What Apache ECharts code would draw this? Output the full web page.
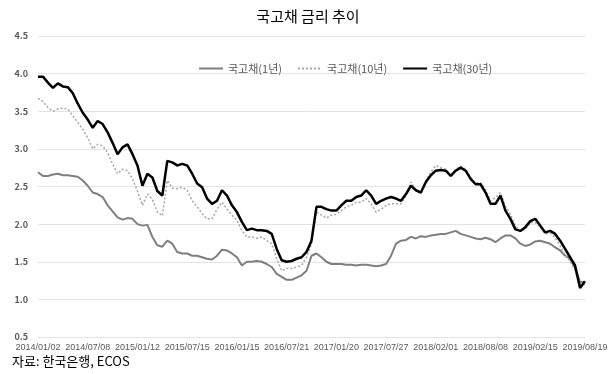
<!DOCTYPE html>
<html><head><meta charset="utf-8">
<script src="https://cdn.jsdelivr.net/npm/echarts@6/dist/echarts.min.js"></script>
<style>html,body{margin:0;padding:0;background:#fff}#c{width:616px;height:374px}</style>
</head><body><div id="c"></div>
<script>
const tickLabels = ['2014/01/02','2014/07/08','2015/01/12','2015/07/15','2016/01/15','2016/07/21','2017/01/20','2017/07/27','2018/02/01','2018/08/08','2019/02/15','2019/08/19'];
const seriesNames = ['국고채(1년)','국고채(10년)','국고채(30년)'];
const y1 = [2.69,2.64,2.64,2.66,2.67,2.65,2.65,2.64,2.63,2.58,2.51,2.42,2.40,2.36,2.25,2.17,2.09,2.06,2.08,2.07,2.00,1.98,1.99,1.83,1.72,1.70,1.78,1.74,1.63,1.61,1.61,1.58,1.58,1.56,1.54,1.53,1.58,1.66,1.65,1.61,1.56,1.45,1.50,1.50,1.51,1.50,1.47,1.43,1.34,1.30,1.26,1.26,1.29,1.32,1.38,1.58,1.61,1.56,1.50,1.47,1.47,1.47,1.46,1.46,1.45,1.46,1.46,1.45,1.44,1.45,1.47,1.58,1.74,1.78,1.79,1.83,1.81,1.84,1.83,1.85,1.86,1.87,1.87,1.89,1.91,1.87,1.85,1.83,1.81,1.80,1.82,1.80,1.76,1.81,1.85,1.85,1.81,1.74,1.71,1.73,1.77,1.78,1.76,1.74,1.69,1.65,1.58,1.54,1.42,1.23,1.23];
const y10 = [3.67,3.63,3.55,3.50,3.53,3.54,3.53,3.44,3.35,3.26,3.15,3.00,3.06,3.04,2.95,2.80,2.67,2.73,2.71,2.60,2.44,2.25,2.40,2.33,2.16,2.11,2.58,2.48,2.47,2.49,2.45,2.31,2.23,2.14,2.07,2.07,2.20,2.29,2.20,2.12,2.05,1.92,1.83,1.83,1.81,1.83,1.78,1.74,1.54,1.38,1.41,1.41,1.43,1.45,1.56,1.74,2.16,2.12,2.08,2.12,2.13,2.18,2.23,2.25,2.29,2.29,2.34,2.27,2.16,2.20,2.25,2.27,2.27,2.27,2.38,2.56,2.45,2.42,2.58,2.69,2.78,2.75,2.73,2.64,2.73,2.77,2.73,2.62,2.55,2.55,2.46,2.31,2.35,2.42,2.24,2.13,1.98,1.91,1.93,2.02,2.02,1.96,1.87,1.88,1.82,1.71,1.58,1.51,1.38,1.20,1.20];
const y30 = [3.96,3.96,3.88,3.81,3.87,3.83,3.82,3.74,3.60,3.48,3.39,3.28,3.37,3.33,3.22,3.08,2.93,3.02,3.06,2.93,2.78,2.51,2.67,2.62,2.44,2.38,2.84,2.82,2.78,2.80,2.78,2.67,2.54,2.49,2.34,2.27,2.31,2.45,2.38,2.25,2.16,2.03,1.92,1.94,1.92,1.92,1.91,1.87,1.67,1.52,1.50,1.51,1.54,1.56,1.63,1.78,2.23,2.23,2.20,2.18,2.18,2.25,2.31,2.31,2.36,2.38,2.45,2.38,2.27,2.31,2.34,2.36,2.34,2.31,2.40,2.51,2.45,2.42,2.56,2.65,2.71,2.72,2.71,2.64,2.71,2.75,2.71,2.60,2.53,2.53,2.42,2.27,2.27,2.38,2.18,2.07,1.93,1.91,1.96,2.04,2.07,1.98,1.89,1.91,1.87,1.78,1.67,1.56,1.45,1.15,1.24];
const pointsPerTick = (y30.length - 1) / (tickLabels.length - 1);
const cats = y30.map((v, i) => String(i));
const FONT = '"Noto Sans CJK KR", "Noto Sans", sans-serif';

const chart = echarts.init(document.getElementById('c'), null, {renderer: 'canvas'});
chart.setOption({
  animation: false,
  backgroundColor: '#fff',
  title: {
    text: '국고채 금리 추이', left: 'center', top: 4,
    textStyle: {fontFamily: FONT, fontSize: 15, fontWeight: 'normal', color: '#000'}
  },
  legend: {
    left: 193, top: 58, itemWidth: 24, itemHeight: 10, itemGap: 15,
    itemStyle: {color: 'transparent', borderWidth: 0, opacity: 0},
    textStyle: {fontFamily: FONT, fontSize: 11, color: '#595959'},
    data: seriesNames
  },
  grid: {left: 38, right: 31, top: 36, bottom: 37},
  xAxis: {
    type: 'category', data: cats, boundaryGap: false,
    axisLine: {show: false}, axisTick: {show: false},
    axisLabel: {
      interval: (idx) => idx % pointsPerTick === 0,
      formatter: (v, idx) => tickLabels[Math.round(idx / pointsPerTick)],
      showMinLabel: true, showMaxLabel: true, hideOverlap: false,
      fontFamily: '"Liberation Sans", Arial, sans-serif', fontSize: 9, color: '#595959', margin: 6
    },
    splitLine: {show: false}
  },
  yAxis: {
    type: 'value', min: 0.5, max: 4.5, interval: 0.5,
    axisLine: {show: false}, axisTick: {show: false},
    axisLabel: {formatter: v => v.toFixed(1), fontFamily: FONT, fontSize: 9, fontWeight: 'bold', color: '#595959', margin: 10},
    splitLine: {lineStyle: {color: '#e3e3e3', width: 1}}
  },
  series: [
    {name: seriesNames[0], type: 'line', data: y1, symbol: 'none', lineStyle: {color: '#7f7f7f', width: 2}, itemStyle: {color: '#7f7f7f'}, z: 2},
    {name: seriesNames[1], type: 'line', data: y10, symbol: 'none', lineStyle: {color: '#a6a6a6', width: 1.5, type: [2, 2]}, itemStyle: {color: '#a6a6a6'}, z: 3},
    {name: seriesNames[2], type: 'line', data: y30, symbol: 'none', lineStyle: {color: '#000', width: 2.5}, itemStyle: {color: '#000'}, z: 4}
  ],
  graphic: [{
    type: 'text', left: 12, top: 355,
    style: {text: '자료: 한국은행, ECOS', font: '13px ' + FONT, fill: '#000'}
  }]
});
</script></body></html>
